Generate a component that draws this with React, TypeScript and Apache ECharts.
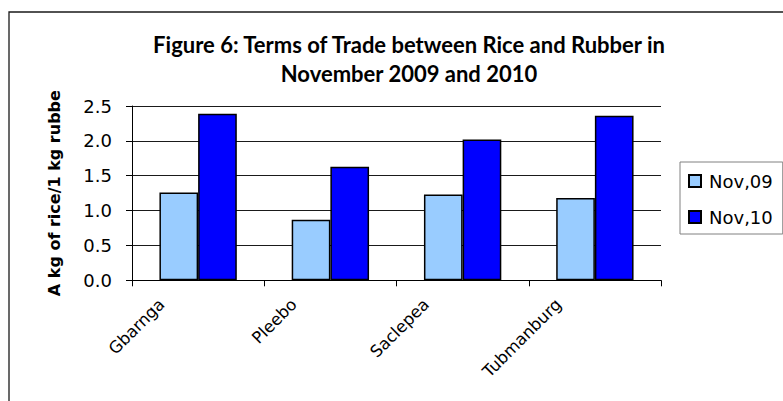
import React, { useEffect, useRef } from "react";
import * as echarts from "echarts";

const categories = ["Gbarnga", "Pleebo", "Saclepea", "Tubmanburg"];
const nov09 = [1.26, 0.87, 1.23, 1.18];
const nov10 = [2.39, 1.63, 2.02, 2.36];
const seriesNames = ["Nov,09", "Nov,10"];
const titleLines = [
  "Figure 6: Terms of Trade between Rice and Rubber in",
  "November 2009 and 2010",
];
const yAxisTitle = "A kg of rice/1 kg rubbe";

export default function App() {
  const ref = useRef<HTMLDivElement>(null);
  useEffect(() => {
    if (!ref.current) return;
    const chart = echarts.init(ref.current, undefined, { renderer: "svg" });
    const font = "'DejaVu Sans', Verdana, sans-serif";
    chart.setOption({
      animation: false,
      backgroundColor: "#ffffff",
      title: {
        text: titleLines.join("\n"),
        left: 404,
        top: 25,
        textAlign: "center",
        textStyle: {
          fontFamily: "Lato, sans-serif",
          fontWeight: "bold",
          fontSize: 22,
          lineHeight: 29,
          color: "#000",
        },
      },
      graphic: [
        {
          type: "rect",
          shape: { x: 9, y: 12, width: 900, height: 500 },
          style: { fill: "none", stroke: "#1a1a1a", lineWidth: 1.3 },
          silent: true,
          z: 0,
        },
      ],
      legend: {
        orient: "vertical",
        left: 680,
        top: 162,
        padding: [10, 10, 8, 8],
        borderColor: "#808080",
        borderWidth: 1,
        icon: "rect",
        itemWidth: 12,
        itemHeight: 12,
        itemGap: 18,
        textStyle: {
          fontFamily: font,
          fontSize: 18,
          color: "#000",
          padding: [0, 0, 0, 3],
        },
        data: seriesNames,
      },
      grid: { left: 132, top: 106, width: 529, height: 174.3 },
      xAxis: {
        type: "category",
        data: categories,
        axisLine: { lineStyle: { color: "#000", width: 1 } },
        axisTick: { show: true, length: 6, lineStyle: { color: "#000" } },
        axisLabel: {
          rotate: 45,
          margin: 4,
          padding: [0, 38, 5, 0],
          verticalAlign: "bottom",
          fontFamily: font,
          fontSize: 16.5,
          color: "#000",
        },
      },
      yAxis: {
        type: "value",
        min: 0,
        max: 2.5,
        interval: 0.5,
        name: yAxisTitle,
        nameLocation: "middle",
        nameRotate: 90,
        nameGap: 70,
        nameTextStyle: {
          fontFamily: font,
          fontWeight: "bold",
          fontSize: 16,
          color: "#000",
        },
        axisLine: { show: true, lineStyle: { color: "#000", width: 1 } },
        axisTick: { show: true, length: 6, lineStyle: { color: "#000" } },
        axisLabel: {
          margin: 20,
          fontFamily: font,
          fontSize: 18,
          color: "#000",
          formatter: (v: number) => v.toFixed(1),
        },
        splitLine: { show: true, lineStyle: { color: "#1a1a1a", width: 1 } },
      },
      series: [
        {
          name: seriesNames[0],
          type: "bar",
          data: nov09,
          barGap: "0%",
          barCategoryGap: "41.5%",
          itemStyle: { color: "#99CCFF", borderColor: "#000", borderWidth: 1.5 },
        },
        {
          name: seriesNames[1],
          type: "bar",
          data: nov10,
          barGap: "0%",
          barCategoryGap: "41.5%",
          itemStyle: { color: "#0000FF", borderColor: "#000", borderWidth: 1.5 },
        },
      ],
    });
    return () => chart.dispose();
  }, []);
  return (
    <div
      ref={ref}
      style={{ position: "fixed", left: 0, top: 0, width: 783, height: 401 }}
    />
  );
}
